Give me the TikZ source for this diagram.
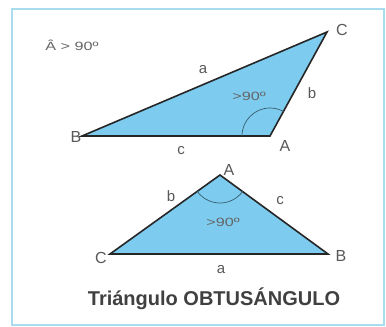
\documentclass[tikz,border=0pt]{standalone}
\usepackage{fontspec}
\usepackage{graphicx}
\setmainfont{Liberation Sans}
\begin{document}
\begin{tikzpicture}[x=1pt,y=-1pt,
  lbl/.style={text=black!65, inner sep=0pt, font=\fontsize{16}{16}\selectfont},
  lc/.style={text=black!65, inner sep=0pt, font=\fontsize{15}{15}\selectfont},
  small/.style={text=black!60, inner sep=0pt, font=\fontsize{12}{12}\selectfont},
  tri/.style={draw=black!85, line width=1.6pt, fill=triblue, line join=miter},
  arcline/.style={draw=black!55!triblue, line width=0.7pt}]
\definecolor{triblue}{RGB}{125,204,240}
\definecolor{frameblue}{RGB}{170,220,240}
\useasboundingbox (0,0) rectangle (386,327);
\fill[white] (0,0) rectangle (386,327);
\draw[frameblue, line width=1.5pt] (12,9) rectangle (384,325);
% top triangle
\coordinate (B1) at (82,136);
\coordinate (A1) at (270,136);
\coordinate (C1) at (327,32);
\draw[tri] (B1) -- (A1) -- (C1) -- cycle;
\draw[arcline] (A1) ++(180:28) arc[start angle=180, end angle=299, radius=28];
\node[small] (t0) at (72,45) {\scalebox{1.35}[1]{Â > 90º}};
\node[lc] (ta) at (203,70) {a};
\node[lc] (tb) at (312,93) {b};
\node[lc] (tc) at (181,151) {c};
\node[small] (tang) at (249,96) {\scalebox{1.35}[1]{>90º}};
\node[lbl] (tA) at (285,146) {A};
\node[lbl] (tC) at (342,30) {C};
\node[lbl] (tB) at (76,137) {B};
% bottom triangle
\coordinate (A2) at (220,175);
\coordinate (C2) at (110,254);
\coordinate (B2) at (328,254);
\draw[tri] (C2) -- (A2) -- (B2) -- cycle;
\draw[arcline] (A2) ++(35:28) arc[start angle=35, end angle=145, radius=28];
\node[lbl] (bA) at (229,170) {A};
\node[lc] (bb) at (171,196) {b};
\node[lc] (bc) at (280,201) {c};
\node[small] (bang) at (223,222) {\scalebox{1.35}[1]{>90º}};
\node[lbl] (bC) at (101,258) {C};
\node[lbl] (bB) at (341,256) {B};
\node[lc] (ba) at (221,270) {a};
\node[inner sep=0pt, text=black!75, font=\fontsize{20}{20}\selectfont\bfseries] (title) at (214,299) {Triángulo OBTUSÁNGULO};
\end{tikzpicture}
\end{document}
